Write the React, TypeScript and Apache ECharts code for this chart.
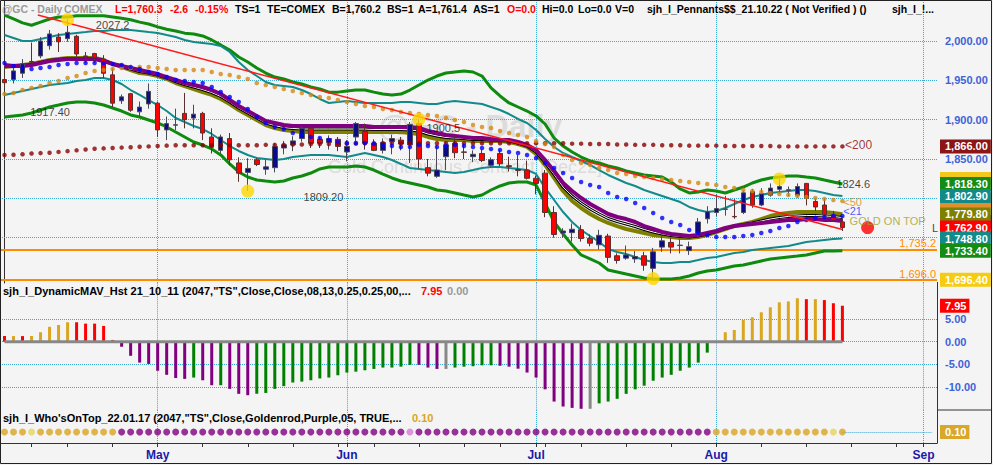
import React, { useEffect, useRef } from 'react';
import * as echarts from 'echarts';

// ---------- trading days (2022) ----------
const APR_DAYS = [6, 7, 8, 11, 12, 13, 14, 18, 19, 20, 21, 22, 25, 26, 27, 28, 29];
const MAY_DAYS = [2, 3, 4, 5, 6, 9, 10, 11, 12, 13, 16, 17, 18, 19, 20, 23, 24, 25, 26, 27, 31];
const JUN_DAYS = [1, 2, 3, 6, 7, 8, 9, 10, 13, 14, 15, 16, 17, 21, 22, 23, 24, 27, 28, 29, 30];
const JUL_DAYS = [1, 5, 6, 7, 8, 11, 12, 13, 14, 15, 18, 19, 20, 21, 22, 25, 26, 27, 28, 29];
const AUG_DAYS = [1, 2, 3, 4, 5, 8, 9, 10, 11, 12, 15, 16, 17, 18, 19, 22, 23, 24, 25, 26, 29, 30, 31];
const SEP_DAYS = [1, 2];
const MONTH_NAMES = ['Jan', 'Feb', 'Mar', 'Apr', 'May', 'Jun', 'Jul', 'Aug', 'Sep', 'Oct', 'Nov', 'Dec'];

// ---------- price bars ----------
const OPEN = [1951, 1951, 1959, 1974, 1981, 1994, 2005, 2003, 2006, 1981,
  1984, 1977, 1957, 1924, 1933, 1910, 1920, 1921, 1887, 1893,
  1908, 1902, 1908, 1878, 1861, 1876, 1845, 1833, 1849, 1837,
  1839, 1864, 1868, 1876, 1889, 1875, 1871, 1875, 1859, 1878,
  1885, 1870, 1861, 1872, 1874, 1868, 1895, 1839, 1828, 1853,
  1870, 1859, 1853, 1857, 1842, 1857, 1841.5, 1836.5, 1836, 1825.5,
  1832, 1782, 1756, 1756.4, 1760, 1749, 1741, 1752, 1727, 1724,
  1723, 1727, 1711, 1738, 1744, 1740, 1733.5, 1755.5, 1774, 1782,
  1786, 1777, 1782, 1808.5, 1791.5, 1804, 1811.5, 1810, 1804, 1819,
  1796, 1791.5, 1779, 1770];
const CLOSE = [1947, 1962, 1971, 1973, 2000, 2009, 1999, 2011, 1983.5, 1980,
  1979, 1959, 1921, 1929, 1912, 1916, 1936, 1887, 1895, 1893.5,
  1900, 1907, 1883, 1865, 1878, 1849, 1832, 1838, 1843, 1840,
  1866, 1868, 1873, 1889, 1870, 1870, 1876, 1866, 1866, 1895,
  1870, 1861, 1871, 1876, 1869, 1894, 1850, 1832, 1836, 1868,
  1858, 1858.5, 1856, 1848, 1849, 1844, 1840.5, 1835.5, 1825.5, 1819,
  1782, 1754, 1758.5, 1760.7, 1749, 1743, 1753, 1725, 1721, 1728,
  1726, 1715, 1732, 1746, 1738, 1740.5, 1738.5, 1770, 1783, 1787,
  1786.5, 1776.5, 1807, 1791.5, 1806, 1813, 1815, 1811, 1815, 1800,
  1789, 1779, 1772.5, 1762.9];
const LOW = [1940, 1946, 1953, 1972, 1978, 1989, 1986, 1999, 1980, 1972,
  1972, 1953, 1916, 1920, 1910, 1902, 1914, 1878, 1874, 1887,
  1889, 1889, 1874, 1857, 1857, 1842, 1821, 1809.2, 1841, 1830,
  1833, 1856, 1860, 1872, 1864, 1864, 1862, 1860, 1847, 1872,
  1862, 1860, 1857, 1856, 1861, 1845, 1838, 1828, 1826, 1836,
  1851, 1850, 1846, 1846, 1839, 1841, 1834, 1828, 1824, 1805,
  1776, 1750, 1750, 1745, 1745, 1739, 1735, 1718, 1717, 1722,
  1718, 1708, 1698, 1732, 1730, 1730, 1728, 1751, 1768, 1777,
  1778, 1774, 1780, 1788, 1790, 1802, 1806, 1803, 1801, 1791,
  1784, 1776, 1772, 1758.5];
const HIGH = [1957, 1967, 1977, 1998, 2005, 2014, 2010, 2027.2, 2008, 1986,
  1985, 1982, 1965, 1932, 1934, 1923, 1946, 1923, 1904, 1914,
  1934, 1919, 1910, 1889, 1881, 1883, 1852, 1851, 1851, 1849,
  1870, 1873, 1879, 1891, 1891, 1878, 1880, 1878, 1874, 1897,
  1895, 1875, 1876, 1881, 1878, 1897, 1900.5, 1850, 1867, 1872,
  1880, 1870, 1861, 1862, 1852, 1862, 1853, 1855, 1848, 1829,
  1836, 1790, 1762, 1768, 1766, 1754, 1760, 1755, 1730, 1740,
  1733, 1732, 1737, 1752, 1750, 1748, 1745, 1775, 1790, 1805,
  1803, 1799, 1810, 1812, 1813, 1819, 1824.6, 1815, 1819, 1819.5,
  1800, 1800, 1784, 1774.6];

// ---------- indicator lines ----------
const GREEN_UP = [2033, 2028, 2023, 2020, 2024, 2028, 2030.5, 2030.5, 2032, 2032,
  2032, 2032, 2030.5, 2029, 2027, 2024, 2021.6, 2018, 2015, 2012.7,
  2010, 2009, 2006.4, 2001.3, 1995, 1988.6, 1979.7, 1973.3, 1965.7, 1959.3,
  1954.2, 1951.7, 1948, 1945.3, 1941.5, 1939, 1935, 1935, 1936.4, 1937.7,
  1937.7, 1935, 1932.6, 1931.4, 1932.6, 1937.7, 1944, 1950.4, 1955.5, 1959.3,
  1960.6, 1961.9, 1960.6, 1955.5, 1940.3, 1930.1, 1921.2, 1916.1, 1911, 1904.7,
  1894.5, 1876.7, 1866.5, 1858.9, 1852.5, 1847.5, 1845, 1841.1, 1838.6, 1834.8,
  1832.2, 1829.7, 1828.4, 1827.1, 1820.8, 1811.9, 1806.8, 1808.1, 1810.6, 1809.3,
  1806.8, 1810.6, 1814.4, 1819.5, 1823.3, 1825.9, 1827.1, 1828.4, 1828.4, 1827.1,
  1825.9, 1823.3, 1820.8, 1818.3];
const GREEN_LO = [1903.4, 1904.7, 1906, 1908.5, 1912.3, 1916.1, 1918.6, 1921.2, 1922.5, 1922.5,
  1921.2, 1918.6, 1914.8, 1911, 1906, 1903.4, 1899.6, 1895.8, 1890.7, 1884.3,
  1878, 1871.6, 1867.8, 1862.8, 1855.2, 1843.7, 1833.5, 1827.1, 1823.3, 1822,
  1820.8, 1822, 1825.9, 1828.4, 1832.2, 1837.3, 1839.8, 1839.8, 1839.8, 1841.1,
  1839.8, 1836, 1830.9, 1825.9, 1822, 1819.5, 1817, 1814.4, 1810.6, 1809.3,
  1806.8, 1804.2, 1801.7, 1804.2, 1810.6, 1815.7, 1819.5, 1820.8, 1820.8, 1817,
  1794, 1769.9, 1754.7, 1740.7, 1728, 1722.9, 1717.8, 1708.9, 1706.4, 1703.8,
  1701.3, 1698.8, 1697.5, 1697.5, 1697.5, 1698.8, 1701.3, 1705.1, 1707.6, 1708.9,
  1711.5, 1714, 1715.3, 1717.8, 1720.4, 1722.9, 1724.2, 1725.5, 1726.7, 1728,
  1730.5, 1733, 1733, 1733.4];
const TEAL_UP = [2007.6, 2003.8, 2000, 2000, 2002.5, 2005.1, 2007.6, 2008.9, 2010.2, 2011.4,
  2012.7, 2012.7, 2014, 2014, 2014, 2012.7, 2011.4, 2010.2, 2007.6, 2005.1,
  2001.3, 1998.7, 1997.5, 1996.2, 1993.6, 1986, 1973.3, 1963.1, 1955.5, 1947.9,
  1944, 1942.8, 1941.5, 1937.7, 1932.6, 1926.3, 1921.2, 1922.5, 1923.7, 1922.5,
  1921.2, 1921.2, 1921.2, 1921.2, 1922.5, 1922.5, 1921.2, 1919.9, 1919.9, 1922.5,
  1923.7, 1922.5, 1921.2, 1919.9, 1916.1, 1912.3, 1907.2, 1900.9, 1895.8, 1886.9,
  1875.4, 1865.3, 1857.6, 1852.5, 1847.5, 1842.4, 1836, 1829.7, 1824.6, 1819.5,
  1815.7, 1810.6, 1806.8, 1803, 1799.2, 1795.3, 1789, 1785.2, 1782.6, 1783.9,
  1787.7, 1792.8, 1797.9, 1801.7, 1804.2, 1806.8, 1808.1, 1809.3, 1810.6, 1810.6,
  1809.3, 1806.8, 1804.2, 1802.9];
const TEAL_LO = [1931.4, 1933.9, 1936.4, 1939, 1941.5, 1944, 1945.3, 1946.6, 1949.2, 1950.4,
  1953, 1953, 1950.4, 1945.3, 1937.7, 1931.4, 1925, 1918.6, 1911, 1902.1,
  1897, 1892, 1888.1, 1881.8, 1874.2, 1866.5, 1860.2, 1855.1, 1851.3, 1850,
  1848.7, 1850, 1852.5, 1853.8, 1855.1, 1855.1, 1855.1, 1853.8, 1852.5, 1855.1,
  1857.6, 1855.1, 1852.5, 1848.7, 1843.7, 1838.6, 1837.3, 1836, 1834.8, 1833.5,
  1832.2, 1833.5, 1836, 1838.6, 1839.8, 1839.8, 1838.6, 1837.3, 1836, 1831,
  1813.2, 1797.9, 1782.6, 1769.9, 1759.8, 1752.1, 1744.5, 1735.6, 1731.8, 1729.3,
  1725.5, 1721.6, 1719.1, 1717.8, 1717.8, 1719.1, 1719.1, 1721.6, 1724.2, 1725.5,
  1728, 1730.5, 1731.8, 1734.3, 1735.6, 1736.9, 1738.2, 1739.4, 1742, 1744.5,
  1745.7, 1747, 1748.3, 1748.8];
const PURPLE_MA = [1969.5, 1968.2, 1968.2, 1969.5, 1972, 1974.6, 1975.8, 1977.1, 1977.1, 1977.1,
  1977.1, 1974.6, 1970.8, 1968.2, 1965.7, 1963.1, 1960.6, 1958, 1954.2, 1950.4,
  1946.6, 1944, 1941.5, 1937.7, 1932.6, 1925, 1917.4, 1911, 1904.7, 1898.3,
  1895.8, 1893.2, 1892, 1892, 1892, 1892, 1892, 1892, 1892, 1892,
  1892, 1890.7, 1890.7, 1890.7, 1890.7, 1890.7, 1889.4, 1885.6, 1883.1, 1880.5,
  1879.3, 1878, 1876.7, 1876.7, 1875.4, 1874.2, 1874.2, 1871.6, 1867.8, 1861.4,
  1848.7, 1834.8, 1819.5, 1809.3, 1800.4, 1792.8, 1786.5, 1780.1, 1776.3, 1773.7,
  1769.9, 1764.8, 1761, 1757.2, 1754.7, 1753.4, 1752.1, 1753.4, 1756, 1758.5,
  1762.3, 1764.8, 1766.1, 1767.4, 1768.7, 1769.9, 1771.2, 1772.5, 1772.5, 1773.7,
  1773.7, 1772.5, 1772.5, 1771.2];
const OLIVE_MA = [1967, 1968.2, 1969.5, 1970.8, 1973.3, 1975.8, 1977.1, 1978.4, 1978.4, 1978.4,
  1978.4, 1975.8, 1970.8, 1967, 1963.1, 1959.3, 1958, 1955.5, 1951.7, 1946.6,
  1942.8, 1939, 1935.2, 1931.4, 1926.3, 1919.9, 1912.3, 1906, 1899.6, 1893.2,
  1889.4, 1886.9, 1885.6, 1884.3, 1884.3, 1884.3, 1884.3, 1884.3, 1884.3, 1884.3,
  1884.3, 1884.3, 1884.3, 1884.3, 1884.3, 1883.1, 1881.8, 1878, 1875.4, 1874.2,
  1874.2, 1874.2, 1872.9, 1872.9, 1872.9, 1872.9, 1871.6, 1869.1, 1865.3, 1856.4,
  1842.4, 1825.9, 1809.3, 1796.6, 1787.7, 1780.1, 1773.7, 1768.7, 1764.8, 1761,
  1758.5, 1756, 1753.4, 1752.1, 1750.8, 1749.6, 1749.6, 1750.8, 1753.4, 1757.2,
  1761, 1764.8, 1767.4, 1769.9, 1773.7, 1777.5, 1780.1, 1781.4, 1782.6, 1782.6,
  1782.6, 1782.6, 1781.4, 1779.8];
const BLACK_MA = [1968.2, 1968.2, 1968.8, 1970, 1972.6, 1975.2, 1976.4, 1977.7, 1977.7, 1977.7,
  1977.7, 1975.2, 1970.8, 1967.6, 1964.4, 1961.2, 1959.3, 1956.7, 1953, 1948.5,
  1944.7, 1941.5, 1938.3, 1934.5, 1929.5, 1922.4, 1914.8, 1908.5, 1902.1, 1895.8,
  1892.6, 1890, 1888.8, 1888.1, 1888.1, 1888.1, 1888.1, 1888.1, 1888.1, 1888.1,
  1888.1, 1887.5, 1887.5, 1887.5, 1887.5, 1887, 1885.6, 1881.8, 1879.3, 1877.4,
  1876.7, 1876, 1874.8, 1874.8, 1874.2, 1873.5, 1872.9, 1870.4, 1866.5, 1858.9,
  1845.5, 1830.4, 1814.4, 1803, 1794, 1786.5, 1780.1, 1774.4, 1770.5, 1767.4,
  1764.2, 1760.4, 1757.2, 1754.7, 1752.7, 1751.5, 1750.8, 1752.1, 1754.7, 1757.8,
  1761.6, 1764.8, 1766.8, 1768.7, 1771.2, 1773.7, 1775.6, 1777, 1777.6, 1778.2,
  1778.2, 1777.6, 1777, 1775.5];
const MA21 = [1972, 1968.2, 1965.7, 1964.4, 1965.7, 1967, 1969.5, 1970.8, 1972, 1972,
  1972, 1972, 1970.8, 1969.5, 1967, 1964.4, 1960.6, 1958, 1954.2, 1950.4,
  1949.2, 1947.9, 1946.6, 1941.5, 1935.2, 1928.8, 1922.5, 1913.6, 1903.4, 1895.8,
  1890.7, 1888.1, 1883.1, 1880.5, 1878, 1876.7, 1874.2, 1871.6, 1870.3, 1870.3,
  1870.3, 1869.1, 1867.8, 1866.5, 1865.3, 1865.3, 1867.8, 1866.5, 1865.3, 1866.5,
  1867.8, 1866.5, 1865.3, 1864, 1862.8, 1861.4, 1858.9, 1857.6, 1855.1, 1851.3,
  1844.9, 1838.6, 1832.2, 1825.9, 1820.8, 1817, 1814.4, 1806.8, 1801.7, 1799.2,
  1794.1, 1787.7, 1781.4, 1775, 1769.9, 1766.1, 1759.8, 1756, 1753.4, 1750.9,
  1750.9, 1750.9, 1752.1, 1753.4, 1756, 1758.5, 1762.3, 1764.8, 1769.9, 1772.5,
  1775, 1776.3, 1777.6, 1777.6];
const MA50 = [1932.6, 1933.9, 1937.7, 1940.3, 1942.8, 1946.6, 1949.2, 1953, 1955.5, 1959.3,
  1961.9, 1963.1, 1964.4, 1965.7, 1965.7, 1967, 1967, 1965.7, 1964.4, 1963.1,
  1963.1, 1963.1, 1963.1, 1960.6, 1958, 1956.8, 1954.2, 1951.7, 1946.6, 1944,
  1941.5, 1939, 1936.4, 1933.9, 1931.4, 1928.8, 1927.5, 1925, 1922.5, 1919.9,
  1917.4, 1916.1, 1913.6, 1912.3, 1909.8, 1908.5, 1907.2, 1905.9, 1904.7, 1902.1,
  1899.6, 1897, 1893.2, 1890.7, 1889.4, 1885.6, 1883.1, 1880.5, 1878, 1872.9,
  1869.1, 1865.3, 1855.1, 1848.7, 1844.9, 1842.4, 1838.6, 1836, 1832.2, 1830.9,
  1828.4, 1827.1, 1825.9, 1824.6, 1823.3, 1822, 1820.8, 1819.5, 1818.2, 1817,
  1814.4, 1813.2, 1810.6, 1809.3, 1808.1, 1806.8, 1805.5, 1804.2, 1803, 1801.7,
  1800.4, 1799.2, 1797.9, 1796.6];
const MA200 = [1855, 1855.5, 1856, 1857, 1857.5, 1858, 1859, 1860, 1861, 1862,
  1863, 1863.5, 1864, 1864.5, 1865, 1865.5, 1866, 1866.5, 1867, 1867.5,
  1867.5, 1867.5, 1867.5, 1867.5, 1867.5, 1867.5, 1867.5, 1867.5, 1867.5, 1868,
  1868, 1868, 1868.5, 1868.5, 1869, 1869, 1869, 1869.5, 1869.5, 1869.5,
  1870, 1870, 1870, 1870, 1870, 1870, 1870, 1870, 1870, 1870,
  1870, 1870, 1870, 1870, 1870, 1870, 1870, 1870, 1870, 1870,
  1870, 1870, 1870, 1869.5, 1869.5, 1869, 1869, 1869, 1868.5, 1868.5,
  1868, 1868, 1868, 1867.5, 1867.5, 1867.5, 1867, 1867, 1867, 1867,
  1866.5, 1866.5, 1866.5, 1866.5, 1866.5, 1866.5, 1866, 1866, 1866, 1866,
  1866, 1866, 1866, 1866];

// trend line and pivots (x = bar index, y = price)
const TREND_X = [3.7, 93];
const TREND_Y = [2033, 1760.3];
const PIVOT_X = [7, 27, 46, 72, 86];
const PIVOT_Y = [2027.2, 1809.2, 1900.5, 1698, 1824.6];
const LAST_MARK = [95.8, 1762.9];
const PIVOT_TEXT = ['2027.2', '1917.40', '1809.20', '1900.5', '1824.6'];
const PIVOT_TEXT_X = [12, 5.05, 35.4, 48.7, 94.2];
const PIVOT_TEXT_Y = [2020.3, 1909.8, 1801.7, 1889.4, 1818.2];
const LEVELS = [1735.2, 1696.0];
const PRICE_GRID = [2000, 1950, 1900, 1850, 1800, 1750];
const PRICE_LABELS = [2000, 1950, 1900, 1850];
// tags: values, colours; hidden = covered by other tags in the reference
const PRICE_TAGS = [1824.6, 1797.4, 1770.0, 1866.0, 1818.3, 1802.9, 1779.8, 1762.9, 1748.8, 1733.4, 1696.4];
const PRICE_TAG_COLORS = ['#f2c81c', '#e0902a', '#800080', '#8b1414', '#148c14', '#138a8a', '#7f7f00', '#ff0000', '#138a8a', '#148c14', '#f5cc10'];
const PRICE_TAG_HIDDEN = [true, true, true, false, false, false, false, false, false, false, false];

// ---------- histogram panel ----------
const HIST = [1.25, 1.25, 1.25, 1.25, 2.1, 3.3, 3.7, 4.3, 4.3, 4.0,
  4.0, 3.5, 0.4, -1.1, -3.1, -4.6, -4.9, -6.4, -7.3, -8.0,
  -8.2, -7.9, -8.5, -9.6, -9.6, -10.4, -11.5, -11.8, -11.5, -11.3,
  -10.4, -9.8, -9.0, -8.8, -8.5, -8.1, -7.9, -7.4, -6.8, -6.6,
  -6.3, -6.0, -5.7, -5.7, -5.5, -5.1, -5.1, -5.7, -6.0, -6.0,
  -5.7, -5.5, -5.4, -5.2, -5.2, -5.3, -5.5, -5.95, -6.8, -7.9,
  -10.5, -13.2, -14.3, -14.6, -14.8, -14.8, -13.6, -13.2, -12.6, -11.5,
  -10.5, -9.7, -8.6, -7.9, -7.3, -6.4, -5.7, -4.6, -2.4, 0.1,
  2.1, 2.6, 4.8, 5.4, 6.5, 7.6, 8.7, 8.9, 9.6, 9.4,
  9.4, 9.2, 8.5, 7.95];
const HIST_CODES = ('RGRGGGGGRRRRR' + 'PPPPPPPP' + 'NPPNPPP' + 'NNNNNNNNNNNNNNNNNN' + 'PPPA' + 'NNNNN' +
  'PPPPPPPPPP' + 'A' + 'NNNNNNNNNNNNN' + 'G' + 'GGGGGGGGG' + 'RGRRR').split('');
const HIST_GRID = [5, 0, -5, -10];
const HIST_LAST = 7.95;

// ---------- who's on top panel ----------
const WHO_LEVEL = 0.1;
const WHO_CODES = ('GGGLGGGGGGGGG' + 'PPPPPPPPPPPPPPPPPPPPPPPPPPPPPPPP' + 'O' +
  'PPPPPPPPPPPPPPPPPPPPPPPPPPPPPPPPP' + 'GGGGGGGGGGGGGLG').split('');

const CODE_COLORS: Record<string, string> = {
  R: '#ff0000', G: '#daa520', P: '#800080', N: '#008000', A: '#888888', L: '#e6d45e', O: '#d67ad6',
};

// ---------- texts ----------
const HEADER_PARTS = [
  { x: 2, text: '@GC - Daily', color: '#9a9a9a' },
  { x: 64, text: 'COMEX', color: '#9a9a9a' },
  { x: 115, text: 'L=1,760.3', color: '#ff0000' },
  { x: 170, text: '-2.6', color: '#ff0000' },
  { x: 195, text: '-0.15%', color: '#ff0000' },
  { x: 235, text: 'TS=1', color: '#000' },
  { x: 267, text: 'TE=COMEX', color: '#000' },
  { x: 332, text: 'B=1,760.2', color: '#000' },
  { x: 387, text: 'BS=1', color: '#000' },
  { x: 418, text: 'A=1,761.4', color: '#000' },
  { x: 473, text: 'AS=1', color: '#000' },
  { x: 507, text: 'O=0.0', color: '#ff0000' },
  { x: 542, text: 'Hi=0.0', color: '#000' },
  { x: 578, text: 'Lo=0.0', color: '#000' },
  { x: 615, text: 'V=0', color: '#000' },
  { x: 647, text: 'sjh_I_Pennants$$_21.10.22 ( Not Verified ) ()', color: '#000' },
  { x: 892, text: 'sjh_I_!...', color: '#000' },
];

const FONT = "'Liberation Sans', Arial, Helvetica, sans-serif";
const GRID_W = 937;
const DOT_LINE = { type: 'dotted' as const, color: '#3aa9d4', width: 1 };

function buildDates() {
  const out: Date[] = [];
  const months: [number, number[]][] = [[3, APR_DAYS], [4, MAY_DAYS], [5, JUN_DAYS], [6, JUL_DAYS], [7, AUG_DAYS], [8, SEP_DAYS]];
  months.forEach(([m, days]) => days.forEach((d) => out.push(new Date(2022, m, d))));
  return out;
}

const fmt2 = (v: number) => v.toLocaleString('en-US', { minimumFractionDigits: 2, maximumFractionDigits: 2 });

export default function App() {
  const ref = useRef<HTMLDivElement>(null);

  useEffect(() => {
    if (!ref.current) return;
    const chart = echarts.init(ref.current, undefined, { renderer: 'svg' });

    const dates = buildDates();
    const cats = dates.map((d) => `${d.getFullYear()}-${String(d.getMonth() + 1).padStart(2, '0')}-${String(d.getDate()).padStart(2, '0')}`);
    const monthStart = new Set<number>();
    const weekStart = new Set<number>();
    dates.forEach((d, i) => {
      if (i === 0) return;
      const p = dates[i - 1];
      if (d.getMonth() !== p.getMonth()) monthStart.add(i);
      if (d.getDay() <= p.getDay() || d.getTime() - p.getTime() >= 6 * 86400000) weekStart.add(i);
    });
    const monthIdx = Array.from(monthStart);
    const monthLines = monthIdx.map((i) => ({ xAxis: i, lineStyle: DOT_LINE, label: { show: false } }));

    const candles = OPEN.map((o, i) => [o, CLOSE[i], LOW[i], HIGH[i]]);

    const lineSeries = (data: number[], color: string, width: number, z: number) => ({
      type: 'line', xAxisIndex: 0, yAxisIndex: 0, data, symbol: 'none', showSymbol: false,
      lineStyle: { color, width }, z, silent: true, animation: false,
    });
    const dotSeries = (data: number[], color: string, size: number, z: number) => ({
      type: 'scatter', xAxisIndex: 0, yAxisIndex: 0, data, symbol: 'circle', symbolSize: size,
      itemStyle: { color }, z, silent: true, animation: false,
    });
    const tagLabel = (text: string, bg: string, blank = false) => ({
      show: true, position: 'end', distance: 3, formatter: blank ? ' ' : text, backgroundColor: bg, color: '#ffffff',
      fontFamily: FONT, fontSize: 11, fontWeight: 'bold', padding: [1, 3, 0, 5], lineHeight: 13,
      ...(blank ? { width: 43 } : {}),
    });
    const hidden = { color: 'rgba(0,0,0,0)', width: 0 };

    const textItems = [
      ...PIVOT_TEXT.map((t, i) => ({ value: [PIVOT_TEXT_X[i], PIVOT_TEXT_Y[i]], label: { show: true, position: 'inside', formatter: t, color: '#111', fontSize: 11, fontFamily: FONT } })),
      { value: [93.3, 1867.8], label: { show: true, position: 'inside', align: 'left', formatter: '<200', color: '#8b0000', fontSize: 12, fontFamily: FONT } },
      { value: [93.1, 1795.5], label: { show: true, position: 'inside', align: 'left', formatter: '<50', color: '#d08a1a', fontSize: 11, lineHeight: 11, fontFamily: FONT } },
      { value: [93.1, 1783.4], label: { show: true, position: 'inside', align: 'left', formatter: '<21', color: '#2233ff', fontSize: 11, lineHeight: 11, fontFamily: FONT } },
      { value: [93.8, 1771.2], label: { show: true, position: 'inside', align: 'left', formatter: 'GOLD ON TOP', color: '#a0a01c', fontSize: 11, lineHeight: 11, fontFamily: FONT } },
      { value: [102.95, 1762.9], label: { show: true, position: 'inside', align: 'left', formatter: 'L', color: '#111', fontSize: 11, fontFamily: FONT } },
    ];

    const option: any = {
      animation: false,
      backgroundColor: '#f4f4f4',
      textStyle: { fontFamily: FONT },
      grid: [
        { left: 0, top: 0, width: GRID_W, height: 283 },
        { left: 0, top: 282.4, width: GRID_W, height: 127.3 },
        { left: 0, top: 410, width: GRID_W, height: 33 },
      ],
      xAxis: [
        { type: 'category', gridIndex: 0, data: cats, boundaryGap: true, show: false },
        { type: 'value', gridIndex: 0, min: -0.5, max: 103.5, show: false },
        { type: 'category', gridIndex: 1, data: cats, boundaryGap: true, show: false },
        {
          type: 'category', gridIndex: 2, data: cats, boundaryGap: true,
          axisLine: { show: true, lineStyle: { color: '#333', width: 1 } },
          axisTick: { show: true, alignWithLabel: true, length: 4, interval: (i: number) => weekStart.has(i) || monthStart.has(i), lineStyle: { color: '#333' } },
          axisLabel: {
            show: true, interval: (i: number) => monthStart.has(i), margin: 6,
            formatter: (v: string) => MONTH_NAMES[Number(v.slice(5, 7)) - 1],
            color: '#1a1aa8', fontWeight: 'bold', fontSize: 12, fontFamily: FONT,
          },
          splitLine: { show: false },
        },
      ],
      yAxis: [
        { type: 'value', gridIndex: 0, min: 1692.38, max: 2052.12, position: 'right', axisLine: { show: true, lineStyle: { color: '#333' } }, axisLabel: { show: false }, axisTick: { show: false }, splitLine: { show: false } },
        { type: 'value', gridIndex: 1, min: -15, max: 13.1, position: 'right', axisLine: { show: true, lineStyle: { color: '#333' } }, axisLabel: { show: false }, axisTick: { show: false }, splitLine: { show: false } },
        { type: 'value', gridIndex: 2, min: 0.05, max: 0.2, position: 'right', axisLine: { show: true, lineStyle: { color: '#333' } }, axisLabel: { show: false }, axisTick: { show: false }, splitLine: { show: false } },
      ],
      series: [
        // ---- panel 1 grid lines ----
        {
          type: 'line', xAxisIndex: 0, yAxisIndex: 0, data: MA200, symbol: 'none', lineStyle: hidden, z: 1, silent: true,
          markLine: {
            silent: true, symbol: ['none', 'none'], z: 1, animation: false,
            data: [
              ...PRICE_GRID.map((v) => ({
                yAxis: v, lineStyle: DOT_LINE,
                label: PRICE_LABELS.includes(v)
                  ? { show: true, position: 'end', distance: 8, formatter: fmt2(v), color: '#3d62d8', fontSize: 11, fontWeight: 'bold', fontFamily: FONT }
                  : { show: false },
              })),
              ...monthLines,
            ],
          },
        },
        {
          type: 'line', xAxisIndex: 0, yAxisIndex: 0, data: MA200, symbol: 'none', lineStyle: hidden, z: 2, silent: true,
          markLine: {
            silent: true, symbol: ['none', 'none'], z: 2, animation: false,
            data: LEVELS.map((v) => ({
              yAxis: v, lineStyle: { color: '#ff8c00', width: 2, type: 'solid' },
              label: { show: true, position: 'insideEndTop', distance: 1, formatter: v.toLocaleString('en-US', { minimumFractionDigits: 1, maximumFractionDigits: 1 }), color: '#ff8c00', fontSize: 11, fontFamily: FONT },
            })),
          },
        },
        lineSeries(GREEN_UP, '#0e8a0e', 3, 3),
        lineSeries(GREEN_LO, '#0e8a0e', 3, 3),
        lineSeries(TEAL_UP, '#138a8a', 2, 3),
        lineSeries(TEAL_LO, '#138a8a', 2, 3),
        lineSeries(OLIVE_MA, '#808000', 4, 3),
        lineSeries(BLACK_MA, '#000000', 3, 3),
        lineSeries(BLACK_MA, '#ffffff', 1, 3),
        lineSeries(PURPLE_MA, '#800080', 4, 3),
        {
          type: 'candlestick', xAxisIndex: 0, yAxisIndex: 0, data: candles, barWidth: 5, z: 4, silent: true,
          itemStyle: { color: '#0b0b85', color0: '#ff0000', borderColor: '#4a4a5a', borderColor0: '#5a3030', borderWidth: 1 },
        },
        dotSeries(MA200, '#8b0000', 4.5, 5),
        dotSeries(MA50, '#d4870f', 4.5, 5),
        dotSeries(MA21, '#0000ff', 4.5, 5),
        {
          type: 'line', xAxisIndex: 1, yAxisIndex: 0, data: TREND_X.map((x, i) => [x, TREND_Y[i]]),
          symbol: 'none', lineStyle: { color: '#ff1a1a', width: 1.5 }, z: 6, silent: true,
        },
        {
          type: 'scatter', xAxisIndex: 1, yAxisIndex: 0, data: PIVOT_X.map((x, i) => [x, PIVOT_Y[i]]),
          symbolSize: 13, itemStyle: { color: '#ffd700' }, z: 7, silent: true,
        },
        {
          type: 'scatter', xAxisIndex: 1, yAxisIndex: 0, data: [LAST_MARK],
          symbolSize: 13, itemStyle: { color: '#ff0000' }, z: 7, silent: true,
        },
        {
          type: 'scatter', xAxisIndex: 1, yAxisIndex: 0, data: textItems, symbolSize: 0,
          itemStyle: { color: 'rgba(0,0,0,0)' }, z: 8, silent: true,
        },
        {
          type: 'line', xAxisIndex: 0, yAxisIndex: 0, data: MA200, symbol: 'none', lineStyle: hidden, z: 50, silent: true,
          markLine: {
            silent: true, symbol: ['none', 'none'], z: 50, animation: false,
            data: PRICE_TAGS.map((v, i) => ({ yAxis: v, lineStyle: hidden, label: tagLabel(fmt2(v), PRICE_TAG_COLORS[i], PRICE_TAG_HIDDEN[i]) })),
          },
        },

        // ---- panel 2 ----
        {
          type: 'line', xAxisIndex: 2, yAxisIndex: 1, data: HIST, symbol: 'none', lineStyle: hidden, z: 1, silent: true,
          markLine: {
            silent: true, symbol: ['none', 'none'], z: 1, animation: false,
            data: [
              ...HIST_GRID.map((v) => ({
                yAxis: v, lineStyle: DOT_LINE,
                label: { show: true, position: 'end', distance: 8, formatter: v.toFixed(2), color: '#3d62d8', fontSize: 11, fontWeight: 'bold', fontFamily: FONT },
              })),
              ...monthLines,
            ],
          },
        },
        {
          type: 'bar', xAxisIndex: 2, yAxisIndex: 1, barWidth: 3, z: 3, silent: true,
          data: HIST.map((v, i) => ({ value: v, itemStyle: { color: CODE_COLORS[HIST_CODES[i]] } })),
        },
        {
          type: 'line', xAxisIndex: 2, yAxisIndex: 1, data: HIST.map(() => 0), symbol: 'none',
          lineStyle: { color: '#888888', width: 3 }, z: 4, silent: true,
        },
        {
          type: 'line', xAxisIndex: 2, yAxisIndex: 1, data: HIST, symbol: 'none', lineStyle: hidden, z: 50, silent: true,
          markLine: {
            silent: true, symbol: ['none', 'none'], z: 50, animation: false,
            data: [{ yAxis: HIST_LAST, lineStyle: hidden, label: tagLabel(HIST_LAST.toFixed(2), '#ff0000') }],
          },
        },

        // ---- panel 3 ----
        {
          type: 'line', xAxisIndex: 3, yAxisIndex: 2, data: WHO_CODES.map(() => WHO_LEVEL), symbol: 'none', lineStyle: hidden, z: 1, silent: true,
          markLine: {
            silent: true, symbol: ['none', 'none'], z: 1, animation: false,
            data: [
              ...monthLines,
              [{ coord: [93, WHO_LEVEL], lineStyle: DOT_LINE, label: { show: false } }, { coord: [103, WHO_LEVEL] }],
            ],
          },
        },
        {
          type: 'scatter', xAxisIndex: 3, yAxisIndex: 2, symbolSize: 7, z: 3, silent: true,
          data: WHO_CODES.map((c) => ({ value: WHO_LEVEL, itemStyle: { color: CODE_COLORS[c] } })),
        },
        {
          type: 'line', xAxisIndex: 3, yAxisIndex: 2, data: WHO_CODES.map(() => WHO_LEVEL), symbol: 'none', lineStyle: hidden, z: 50, silent: true,
          markLine: {
            silent: true, symbol: ['none', 'none'], z: 50, animation: false,
            data: [{ yAxis: WHO_LEVEL, lineStyle: hidden, label: tagLabel(WHO_LEVEL.toFixed(2), '#d9a82a') }],
          },
        },
      ],
      graphic: [
        // watermark
        { type: 'text', x: 470, y: 126, z: 0, silent: true, style: { text: '@GC - Daily', fill: '#dcdcdc', font: `bold 32px ${FONT}`, align: 'center', verticalAlign: 'middle' } },
        { type: 'text', x: 465, y: 167, z: 0, silent: true, style: { text: 'Gold Continuous Contract [Dec22]', fill: '#dcdcdc', font: `18px ${FONT}`, align: 'center', verticalAlign: 'middle' } },
        // header
        ...HEADER_PARTS.map((p) => ({
          type: 'text', x: p.x, y: 9, z: 100, silent: true,
          style: { text: p.text, fill: p.color, font: `bold 10.5px ${FONT}`, align: 'left', verticalAlign: 'middle' },
        })),
        // panel titles
        { type: 'text', x: 3, y: 291, z: 100, silent: true, style: { text: 'sjh_I_DynamicMAV_Hst 21_10_11 (2047,"TS",Close,Close,08,13,0.25,0.25,00,...', fill: '#000', font: `bold 11px ${FONT}`, align: 'left', verticalAlign: 'middle' } },
        { type: 'text', x: 421, y: 291, z: 100, silent: true, style: { text: '7.95', fill: '#ff0000', font: `bold 11px ${FONT}`, align: 'left', verticalAlign: 'middle' } },
        { type: 'text', x: 447, y: 291, z: 100, silent: true, style: { text: '0.00', fill: '#999', font: `bold 11px ${FONT}`, align: 'left', verticalAlign: 'middle' } },
        { type: 'text', x: 3, y: 418, z: 100, silent: true, style: { text: 'sjh_I_Who\'sOnTop_22.01.17 (2047,"TS",Close,Goldenrod,Purple,05, TRUE,...', fill: '#000', font: `bold 11px ${FONT}`, align: 'left', verticalAlign: 'middle' } },
        { type: 'text', x: 412, y: 418, z: 100, silent: true, style: { text: '0.10', fill: '#daa520', font: `bold 11px ${FONT}`, align: 'left', verticalAlign: 'middle' } },
        // frame
        { type: 'line', z: 100, silent: true, shape: { x1: 937, y1: 410, x2: 992, y2: 410 }, style: { stroke: '#333', lineWidth: 1 } },
        { type: 'rect', z: 100, silent: true, shape: { x: 0.5, y: 0.5, width: 991, height: 463 }, style: { fill: 'none', stroke: '#222', lineWidth: 1 } },
      ],
    };

    chart.setOption(option);
    return () => chart.dispose();
  }, []);

  return <div ref={ref} style={{ position: 'fixed', left: 0, top: 0, width: 993, height: 465 }} />;
}
